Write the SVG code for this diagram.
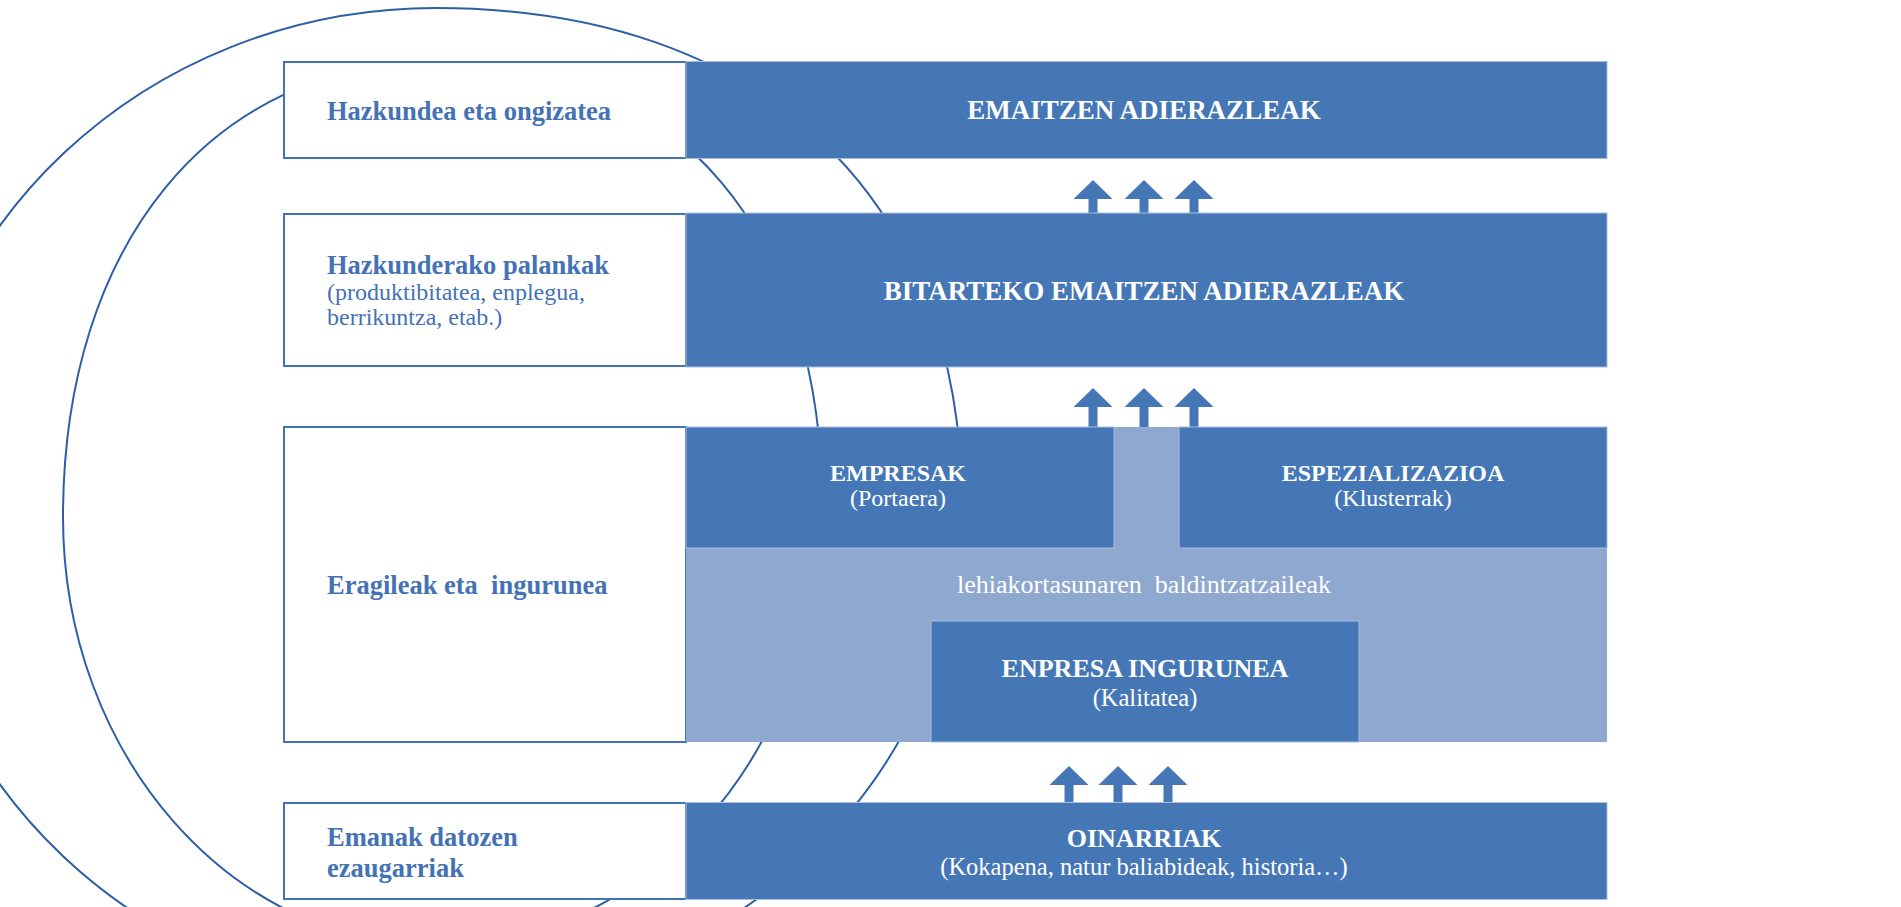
<svg xmlns="http://www.w3.org/2000/svg" xmlns:xlink="http://www.w3.org/1999/xlink" width="1901" height="907" viewBox="0 0 1901 907">
<style>
.ring{fill:none;stroke:#2D5FA6;stroke-width:2}
.lbox{fill:#FFFFFF;stroke:#4472B8;stroke-width:2}
.dark{fill:#4577B6;stroke:#A9BEDF;stroke-width:1}
.light{fill:#8FA8D0}
.arrow{fill:#4577B6}
.lt{font-family:"Liberation Serif","Times New Roman",serif;fill:#4472B4}
.wt{font-family:"Liberation Serif","Times New Roman",serif;fill:#FFFFFF;text-anchor:middle}
.b{font-weight:bold}
</style>
<defs>
<path id="arr" d="M0,0 L19.5,19 L4.5,19 L4.5,42 L-4.5,42 L-4.5,19 L-19.5,19 Z"/>
</defs>
<rect x="0" y="0" width="1901" height="907" fill="#FFFFFF"/>
<g id="rings">
<path class="ring" d="M -91,505 C -91,230.5 144.9,8 436,8 C 762,8 962,196.9 962,505 C 962,779.5 726.5,1002 436,1002 C 144.9,1002 -91,779.5 -91,505 Z"/>
<path class="ring" d="M 63,517 C 63,244 212.6,62 437,62 C 680,62 823,230.4 823,517 L 818,517 C 818,754 647.4,946 437,946 C 230.4,946 63,754 63,517 Z"/>
</g>
<g id="connectors">
<use href="#arr" class="arrow" x="1093" y="180"/>
<use href="#arr" class="arrow" x="1144" y="180"/>
<use href="#arr" class="arrow" x="1194" y="180"/>
<use href="#arr" class="arrow" x="1093" y="388"/>
<use href="#arr" class="arrow" x="1144" y="388"/>
<use href="#arr" class="arrow" x="1194" y="388"/>
<use href="#arr" class="arrow" x="1069" y="766"/>
<use href="#arr" class="arrow" x="1118" y="766"/>
<use href="#arr" class="arrow" x="1168" y="766"/>
</g>
<g id="row1">
<rect class="lbox" x="284" y="62" width="402" height="96"/>
<text class="lt b" x="327" y="120" font-size="26.5">Hazkundea eta ongizatea</text>
<rect class="dark" x="686" y="61.5" width="921" height="97"/>
<text class="wt b" x="1144" y="119" font-size="27">EMAITZEN ADIERAZLEAK</text>
</g>
<g id="row2">
<rect class="lbox" x="284" y="214" width="402" height="152"/>
<text class="lt b" x="327" y="274" font-size="26.5">Hazkunderako palankak</text>
<text class="lt" x="327" y="300" font-size="24">(produktibitatea, enplegua,</text>
<text class="lt" x="327" y="325" font-size="24">berrikuntza, etab.)</text>
<rect class="dark" x="686" y="213" width="921" height="154"/>
<text class="wt b" x="1144" y="300" font-size="27">BITARTEKO EMAITZEN ADIERAZLEAK</text>
</g>
<g id="row3">
<rect class="lbox" x="284" y="427" width="402" height="315"/>
<text class="lt b" x="327" y="594" font-size="26.5" style="white-space:pre">Eragileak eta  ingurunea</text>
<rect class="light" x="686" y="427" width="921" height="315"/>
<text class="wt" x="1144" y="593" font-size="26" style="white-space:pre">lehiakortasunaren  baldintzatzaileak</text>
</g>
<g id="empresak">
<rect class="dark" x="686" y="427" width="428" height="121"/>
<text class="wt b" x="898" y="481" font-size="24">EMPRESAK</text>
<text class="wt" x="898" y="506" font-size="24">(Portaera)</text>
</g>
<g id="espezializazioa">
<rect class="dark" x="1179" y="427" width="428" height="121"/>
<text class="wt b" x="1393" y="481" font-size="24">ESPEZIALIZAZIOA</text>
<text class="wt" x="1393" y="506" font-size="24">(Klusterrak)</text>
</g>
<g id="enpresa-ingurunea">
<rect class="dark" x="931" y="621" width="428" height="121"/>
<text class="wt b" x="1145" y="677" font-size="26">ENPRESA INGURUNEA</text>
<text class="wt" x="1145" y="706" font-size="24.5">(Kalitatea)</text>
</g>
<g id="row4">
<rect class="lbox" x="284" y="803" width="402" height="96"/>
<text class="lt b" x="327" y="846" font-size="26.5">Emanak datozen</text>
<text class="lt b" x="327" y="877" font-size="26.5">ezaugarriak</text>
<rect class="dark" x="686" y="802.5" width="921" height="97"/>
<text class="wt b" x="1144" y="847" font-size="26">OINARRIAK</text>
<text class="wt" x="1144" y="875" font-size="24.5">(Kokapena, natur baliabideak, historia…)</text>
</g>
</svg>
